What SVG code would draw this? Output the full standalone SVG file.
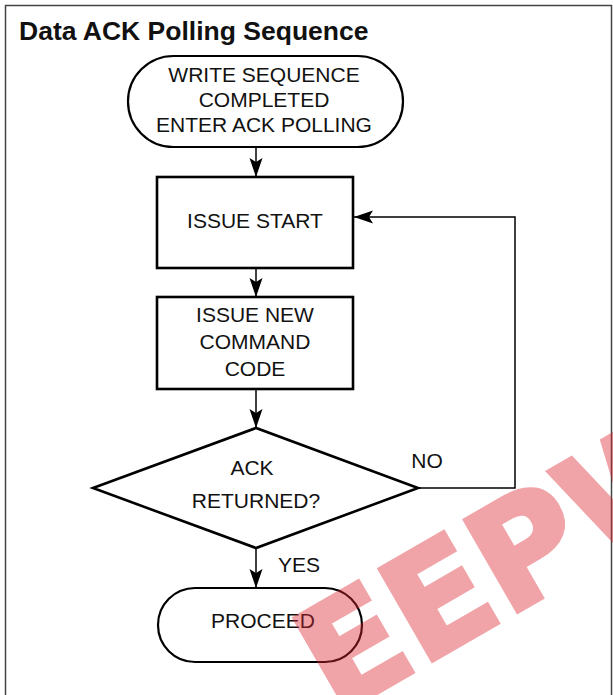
<svg xmlns="http://www.w3.org/2000/svg" width="613" height="695" viewBox="0 0 613 695">
<style>
.t{font-family:"Liberation Sans",Arial,sans-serif;font-size:21px;fill:#111;text-anchor:middle}
.title{font-family:"Liberation Sans",Arial,sans-serif;font-size:26.5px;font-weight:bold;fill:#111}
.shape{fill:#fff;stroke:#000;stroke-width:2.6}
.term{fill:#fff;stroke:#000;stroke-width:2.2}
.conn{fill:none;stroke:#000;stroke-width:1.5}
.wm{font-family:"DejaVu Sans",sans-serif;font-weight:bold;font-size:144px;fill:#dc2832;stroke:#dc2832;stroke-width:5;stroke-linejoin:miter}
</style>
<defs>
<marker id="arr" markerUnits="userSpaceOnUse" markerWidth="20" markerHeight="14" refX="19" refY="7" orient="auto">
<path d="M0,0.5 L19,7 L0,13.5 L4,7 z" fill="#000"/>
</marker>
</defs>
<rect x="0" y="0" width="613" height="695" fill="#fff"/>
<path d="M5.5,700 L5.5,5.5 L611.5,5.5 L611.5,700" fill="none" stroke="#444" stroke-width="1.5"/>
<text class="title" x="19" y="40">Data ACK Polling Sequence</text>
<g id="connectors">
<line class="conn" x1="256" y1="147" x2="256" y2="177" marker-end="url(#arr)"/>
<line class="conn" x1="256" y1="268" x2="256" y2="297" marker-end="url(#arr)"/>
<line class="conn" x1="256" y1="389" x2="256" y2="428" marker-end="url(#arr)"/>
<line class="conn" x1="256" y1="548" x2="256" y2="588" marker-end="url(#arr)"/>
<polyline class="conn" points="418,488 515,488 515,217 354,217" marker-end="url(#arr)"/>
<text class="t" x="427" y="468">NO</text>
<text class="t" x="299" y="572">YES</text>
</g>
<g id="start">
<rect class="term" x="128" y="56" width="275" height="91" rx="45.5" ry="45.5"/>
<text class="t" x="264" y="82">WRITE SEQUENCE</text>
<text class="t" x="264" y="107">COMPLETED</text>
<text class="t" x="264" y="132">ENTER ACK POLLING</text>
</g>
<g id="issue-start">
<rect class="shape" x="157" y="177" width="196" height="91"/>
<text class="t" x="255" y="228">ISSUE START</text>
</g>
<g id="issue-command">
<rect class="shape" x="157" y="297" width="196" height="92"/>
<text class="t" x="255" y="322">ISSUE NEW</text>
<text class="t" x="255" y="349">COMMAND</text>
<text class="t" x="255" y="376">CODE</text>
</g>
<g id="ack-decision">
<polygon class="shape" points="93,488 256,428 418,488 256,548"/>
<text class="t" x="252" y="475">ACK</text>
<text class="t" x="256" y="508">RETURNED?</text>
</g>
<g id="proceed">
<rect class="term" x="158" y="588" width="204" height="74" rx="37" ry="37"/>
<text class="t" x="263" y="628">PROCEED</text>
</g>
<g opacity="0.42">
<text class="wm" x="0" y="0" transform="translate(336,716) rotate(-30)">EEPW</text>
</g>
</svg>
